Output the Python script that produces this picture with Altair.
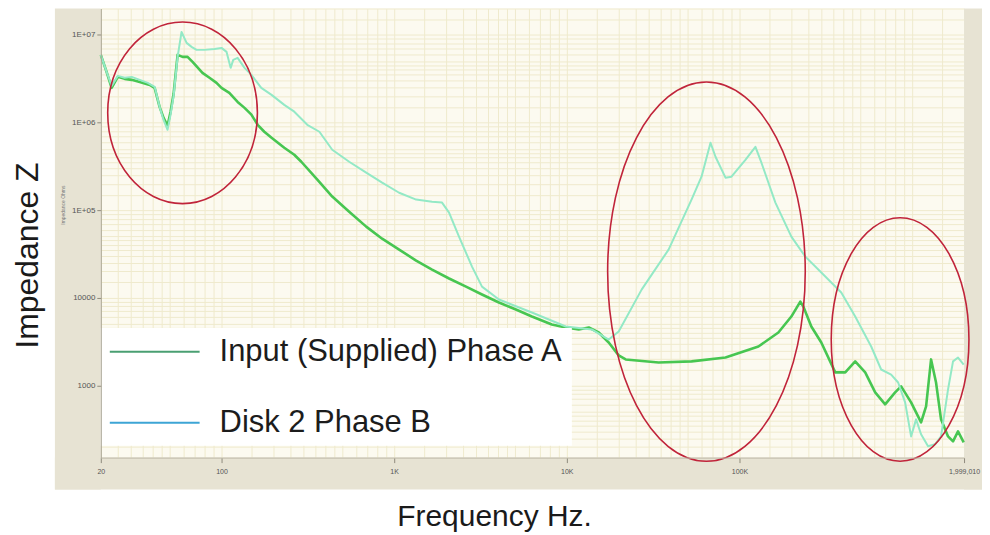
import altair as alt
import pandas as pd

# ---------------- data ----------------
series_names = ["Input (Supplied) Phase A", "Disk 2 Phase B"]

freq_a = [20, 21.6, 23.1, 25.1, 27.5, 30.2, 33.6, 38.4, 41.0, 43.8, 46.2, 48.7, 50.7, 52.8,
          55.7, 59.5, 63.6, 68.0, 77.6, 85.2, 93.6, 100, 111, 124, 136, 149, 162, 177, 195,
          231, 264, 290, 359, 438, 549, 689, 852, 1069, 1341, 1658, 2080, 2608, 3227, 4045,
          5073, 6278, 8190, 9868, 11730, 13410, 15310, 17490, 19980, 21930, 34030, 52780,
          83020, 128780, 168080, 199800, 225200, 234400, 260800, 297900, 358800, 410000,
          468200, 535000, 611100, 698200, 797500, 863900, 986700, 1127000, 1205000, 1288000,
          1376000, 1471000, 1615000, 1726000, 1845000, 1990000]
imp_a = [5.92e6, 3.79e6, 2.49e6, 3.32e6, 3.15e6, 3.07e6, 2.91e6, 2.69e6, 2.49e6, 1.51e6,
         1.13e6, 9.18e5, 1.33e6, 2.13e6, 5.92e6, 5.61e6, 5.61e6, 4.92e6, 3.69e6, 3.24e6,
         2.84e6, 2.49e6, 2.18e6, 1.72e6, 1.47e6, 1.23e6, 9.43e5, 7.85e5, 6.70e5, 5.16e5,
         4.29e5, 3.57e5, 2.23e5, 1.43e5, 9.61e4, 6.49e4, 4.73e4, 3.55e4, 2.66e4, 2.10e4,
         1.66e4, 1.34e4, 1.09e4, 8.83e3, 7.35e3, 6.11e3, 4.95e3, 4.58e3, 4.35e3, 4.58e3,
         4.02e3, 3.09e3, 2.20e3, 1.98e3, 1.83e3, 1.88e3, 2.08e3, 2.78e3, 4.02e3, 6.11e3,
         9.06e3, 7.95e3, 4.70e3, 3.09e3, 1.41e3, 1.41e3, 1.88e3, 1.41e3, 832, 608, 832, 974,
         640, 379, 576, 1980, 1080, 410, 262, 230, 299, 224]

freq_b = [20, 21.6, 23.1, 25.1, 27.5, 30.2, 33.6, 37.4, 41.0, 43.8, 46.2, 48.7, 50.7, 52.8,
          55.7, 58.7, 62.8, 67.1, 71.7, 79.7, 91.1, 100, 107, 113, 117, 124, 136, 149, 170,
          195, 231, 264, 314, 369, 438, 549, 689, 852, 1069, 1341, 1658, 1894, 2080, 2375,
          2825, 3227, 4045, 6278, 9868, 13950, 17490, 19980, 27130, 38870, 52780, 60300,
          67990, 72650, 83020, 89920, 108300, 123760, 134080, 161500, 199800, 240700,
          297900, 388700, 468200, 579500, 662000, 756200, 830100, 911100, 986700, 1054600,
          1127000, 1237000, 1358000, 1471000, 1615000, 1726000, 1845000, 1990000]
imp_b = [5.92e6, 3.79e6, 2.62e6, 3.41e6, 3.24e6, 3.32e6, 3.07e6, 2.84e6, 2.56e6, 1.51e6,
         1.07e6, 8.27e5, 1.23e6, 2.02e6, 5.61e6, 1.08e7, 8.11e6, 7.30e6, 6.75e6, 6.75e6,
         6.92e6, 7.11e6, 6.40e6, 4.21e6, 5.19e6, 5.47e6, 4.21e6, 3.50e6, 2.49e6, 2.07e6,
         1.59e6, 1.33e6, 9.43e5, 7.85e5, 4.89e5, 3.57e5, 2.68e5, 2.06e5, 1.58e5, 1.32e5,
         1.25e5, 1.22e5, 9.36e4, 4.99e4, 2.27e4, 1.34e4, 9.55e3, 6.79e3, 4.70e3, 4.35e3,
         3.34e3, 4.12e3, 1.24e4, 3.55e4, 1.32e5, 2.41e5, 5.88e5, 4.07e5, 2.35e5, 2.41e5,
         3.76e5, 5.29e5, 3.48e5, 1.22e5, 4.99e4, 2.95e4, 1.94e4, 1.15e4, 6.11e3, 2.78e3,
         1.52e3, 1.33e3, 1.08e3, 640, 262, 410, 277, 202, 213, 262, 900, 1880, 2080, 1730]

x_tick_values = [20, 100, 1000, 10000, 100000, 1999010]
x_tick_labels = ["20", "100", "1K", "10K", "100K", "1,999,010"]
y_tick_values = [1000, 10000, 100000, 1000000, 10000000]
y_tick_labels = ["1000", "10000", "1E+05", "1E+06", "1E+07"]

# annotation ellipses (centre frequency, centre impedance)
ellipse_freq = [59.5, 64400, 852000]
ellipse_imp = [1.29e6, 1.99e4, 3340]

# ---------------- styling / layout ----------------
FONT = "Liberation Sans, Arial, sans-serif"
W, H = 865, 450
line_colors = ["#47c651", "#93e9c6"]
legend_colors = ["#4a9f72", "#3da5d5"]
frame_color = "#e7e3d3"
plot_bg = "#fcfaf0"
grid_color = "#efeacd"
ellipse_color = "#c0243a"
ellipse_px = [(150, 182), (198, 380), (138, 244)]


def minor_values(lo, hi):
    out = []
    for e in range(0, 8):
        for k in [1, 1.5, 2, 2.5, 3, 3.5, 4, 4.5, 5, 6, 7, 8, 9]:
            v = k * 10 ** e
            if lo <= v <= hi:
                out.append(v)
    return out


def label_expr(values, labels):
    expr = "''"
    for v, l in reversed(list(zip(values, labels))):
        expr = f"datum.value == {v} ? '{l}' : ({expr})"
    return expr


def ellipse_path(w, h):
    m = max(w, h)
    rx, ry = w / m, h / m
    k = 0.5523
    f = lambda a: f"{a:.4f}"
    return (f"M{f(rx)},0 C{f(rx)},{f(k*ry)} {f(k*rx)},{f(ry)} 0,{f(ry)} "
            f"C{f(-k*rx)},{f(ry)} {f(-rx)},{f(k*ry)} {f(-rx)},0 "
            f"C{f(-rx)},{f(-k*ry)} {f(-k*rx)},{f(-ry)} 0,{f(-ry)} "
            f"C{f(k*rx)},{f(-ry)} {f(rx)},{f(-k*ry)} {f(rx)},0 Z"), m * m


x_scale = alt.Scale(type="log", domain=[20, 1999010], nice=False)
y_scale = alt.Scale(type="log", domain=[150, 2.0e7], nice=False)

df_a = pd.DataFrame({"freq": freq_a, "imp": imp_a, "series": series_names[0]})
df_b = pd.DataFrame({"freq": freq_b, "imp": imp_b, "series": series_names[1]})
one = pd.DataFrame({"k": [0]})

grid_x = alt.Axis(values=minor_values(20, 2.0e6), grid=True, gridColor=grid_color, gridWidth=1,
                  labels=False, ticks=False, domain=False, zindex=0, orient="bottom")
grid_y = alt.Axis(values=minor_values(150, 2.0e7), grid=True, gridColor=grid_color, gridWidth=1,
                  labels=False, ticks=False, domain=False, zindex=0, orient="left")

lab_x = alt.Axis(values=x_tick_values, labelExpr=label_expr(x_tick_values, x_tick_labels),
                 grid=False, ticks=True, tickSize=5, tickColor="#8f8b7c", domain=True,
                 domainColor="#bdb9a8", labelFontSize=7, labelColor="#555555", labelFont=FONT,
                 labelPadding=5, labelFlush=False, labelOverlap=False, zindex=1, orient="bottom",
                 title="Frequency Hz.", titleFontSize=30, titleFontWeight="normal",
                 titleColor="#1a1a1a", titleFont=FONT, titleX=394, titleY=59,
                 titleBaseline="middle", titleAlign="center")
lab_y = alt.Axis(values=y_tick_values, labelExpr=label_expr(y_tick_values, y_tick_labels),
                 grid=False, ticks=True, tickSize=4, tickColor="#8f8b7c", domain=True,
                 domainColor="#a9a595", labelFontSize=8, labelColor="#555555", labelFont=FONT,
                 labelPadding=2, labelOverlap=False, zindex=1, orient="left",
                 title="Impedance Z", titleFontSize=32, titleFontWeight="normal",
                 titleColor="#1a1a1a", titleFont=FONT, titleX=-73, titleY=247, titleAngle=270,
                 titleBaseline="middle", titleAlign="center")

# frame strips (outside the plot)
frame_left = alt.Chart(one).mark_rect(color=frame_color).encode(
    x=alt.value(-46), x2=alt.value(0), y=alt.value(0), y2=alt.value(482))
frame_bottom = alt.Chart(one).mark_rect(color=frame_color).encode(
    x=alt.value(-46), x2=alt.value(W + 18), y=alt.value(H), y2=alt.value(482))
frame_right = alt.Chart(one).mark_rect(color=frame_color).encode(
    x=alt.value(W), x2=alt.value(W + 18), y=alt.value(0), y2=alt.value(482))

line_a = alt.Chart(df_a).mark_line(color=line_colors[0], strokeWidth=2.6, strokeJoin="round").encode(
    x=alt.X("freq:Q", scale=x_scale, axis=grid_x, title=None),
    y=alt.Y("imp:Q", scale=y_scale, axis=grid_y, title=None),
)
line_b = alt.Chart(df_b).mark_line(color=line_colors[1], strokeWidth=2.0, strokeJoin="round").encode(
    x=alt.X("freq:Q", scale=x_scale, axis=lab_x),
    y=alt.Y("imp:Q", scale=y_scale, axis=lab_y),
)

ellipses = []
for fq, im, (w, h) in zip(ellipse_freq, ellipse_imp, ellipse_px):
    path, size = ellipse_path(w, h)
    ellipses.append(
        alt.Chart(pd.DataFrame({"freq": [fq], "imp": [im]})).mark_point(
            shape=path, size=size, filled=False, color=ellipse_color, strokeWidth=1.6, opacity=1
        ).encode(
            x=alt.X("freq:Q", scale=x_scale, axis=None),
            y=alt.Y("imp:Q", scale=y_scale, axis=None),
        )
    )

legend_layer = alt.Chart(pd.DataFrame({"series": series_names})).mark_rule(opacity=0).encode(
    x=alt.value(0), x2=alt.value(1), y=alt.value(0),
    color=alt.Color("series:N", scale=alt.Scale(domain=series_names, range=legend_colors),
                    legend=alt.Legend(title=None, orient="none", legendX=0, legendY=320,
                                      direction="vertical", fillColor="white", padding=8,
                                      symbolType="M-1,0L5,0", symbolSize=900,
                                      symbolStrokeWidth=2, symbolOpacity=1,
                                      labelFontSize=31, labelFont=FONT, labelColor="#1c1c1c",
                                      labelOffset=79, labelLimit=600, rowPadding=40)),
)

small_title = alt.Chart(one).mark_text(text="Impedance Ohms", angle=270, fontSize=5,
                                       color="#7a7a7a", font=FONT).encode(
    x=alt.value(-38), y=alt.value(197))

chart = alt.layer(
    frame_left, frame_bottom, frame_right, line_a, line_b, *ellipses, legend_layer, small_title
).resolve_axis(
    x="independent", y="independent"
).properties(
    width=W, height=H,
    autosize=alt.AutoSizeParams(type="none"),
    padding={"left": 93, "top": 0, "right": 18, "bottom": 77},
    background="white",
).configure_view(fill=plot_bg, strokeWidth=0)

chart.save("out.html", embed_options={"renderer": "svg", "actions": False})
